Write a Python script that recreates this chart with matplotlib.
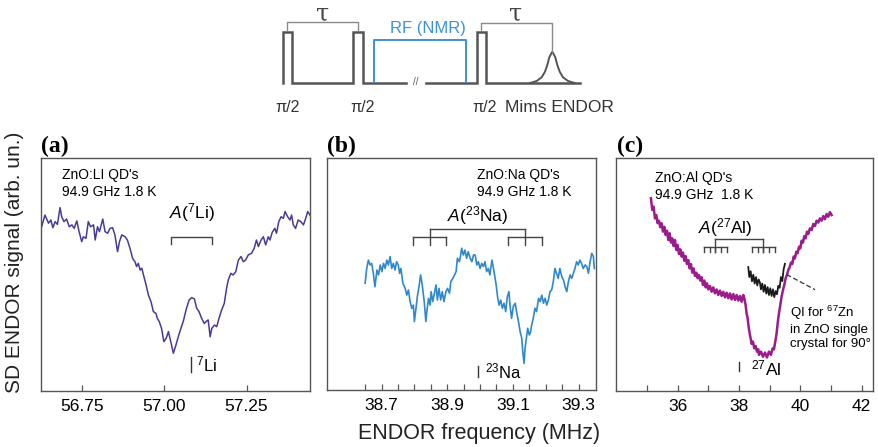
import matplotlib
matplotlib.use('Agg')
import matplotlib.pyplot as plt
from matplotlib.ticker import FixedLocator, FormatStrFormatter

# ---------------- data ----------------
# (a) ZnO:Li QD's, Mims ENDOR
li_freq = [56.626, 56.636, 56.647, 56.654, 56.660, 56.667, 56.674, 56.682, 56.687,
           56.694, 56.702, 56.710, 56.718, 56.725, 56.733, 56.740, 56.748, 56.753,
           56.761, 56.768, 56.775, 56.784, 56.789, 56.796, 56.802, 56.812, 56.819,
           56.827, 56.834, 56.842, 56.849, 56.857, 56.863, 56.870, 56.880, 56.887,
           56.895, 56.903, 56.910, 56.915, 56.920, 56.926, 56.931, 56.936, 56.944,
           56.951, 56.959, 56.966, 56.974, 56.978, 56.984, 56.991, 56.998, 57.005,
           57.012, 57.019, 57.027, 57.035, 57.042, 57.050, 57.057, 57.067, 57.075,
           57.083, 57.091, 57.098, 57.105, 57.113, 57.121, 57.128, 57.133, 57.139,
           57.144, 57.152, 57.159, 57.166, 57.174, 57.182, 57.189, 57.194, 57.202,
           57.209, 57.217, 57.225, 57.233, 57.240, 57.247, 57.255, 57.265, 57.273,
           57.280, 57.286, 57.294, 57.301, 57.308, 57.316, 57.321, 57.328, 57.336,
           57.341, 57.348, 57.355, 57.362, 57.367, 57.375, 57.382, 57.387, 57.392,
           57.399, 57.407, 57.415, 57.423, 57.430, 57.436, 57.443]
li_signal = [0.705, 0.755, 0.720, 0.734, 0.701, 0.727, 0.715, 0.787, 0.748,
             0.727, 0.738, 0.705, 0.713, 0.698, 0.730, 0.684, 0.641, 0.662,
             0.655, 0.727, 0.705, 0.713, 0.648, 0.705, 0.684, 0.738, 0.684,
             0.677, 0.698, 0.701, 0.670, 0.598, 0.641, 0.670, 0.662, 0.648,
             0.612, 0.569, 0.555, 0.534, 0.548, 0.519, 0.527, 0.498, 0.455,
             0.412, 0.383, 0.341, 0.333, 0.312, 0.298, 0.269, 0.212, 0.226,
             0.255, 0.212, 0.162, 0.198, 0.233, 0.269, 0.298, 0.355, 0.391,
             0.401, 0.395, 0.355, 0.341, 0.312, 0.290, 0.300, 0.305, 0.233,
             0.269, 0.283, 0.276, 0.312, 0.348, 0.376, 0.441, 0.476, 0.505,
             0.498, 0.512, 0.562, 0.577, 0.555, 0.562, 0.584, 0.591, 0.612,
             0.648, 0.620, 0.648, 0.662, 0.627, 0.662, 0.648, 0.681, 0.698,
             0.677, 0.727, 0.748, 0.741, 0.770, 0.748, 0.734, 0.755, 0.713,
             0.698, 0.734, 0.727, 0.713, 0.741, 0.770, 0.755]

# (b) ZnO:Na QD's
na_freq = [38.650, 38.655, 38.660, 38.665, 38.670, 38.675, 38.680, 38.686, 38.691,
           38.696, 38.701, 38.706, 38.711, 38.716, 38.721, 38.726, 38.731, 38.736,
           38.741, 38.746, 38.751, 38.755, 38.759, 38.765, 38.772, 38.777, 38.782,
           38.787, 38.792, 38.797, 38.800, 38.805, 38.809, 38.815, 38.819, 38.824,
           38.830, 38.835, 38.838, 38.843, 38.848, 38.851, 38.856, 38.860, 38.866,
           38.870, 38.875, 38.880, 38.885, 38.890, 38.896, 38.901, 38.907, 38.911,
           38.917, 38.922, 38.927, 38.931, 38.937, 38.941, 38.944, 38.949, 38.954,
           38.959, 38.964, 38.970, 38.975, 38.980, 38.985, 38.990, 38.995, 39.000,
           39.005, 39.010, 39.015, 39.020, 39.025, 39.030, 39.036, 39.041, 39.046,
           39.049, 39.054, 39.058, 39.063, 39.068, 39.073, 39.078, 39.083, 39.088,
           39.091, 39.096, 39.101, 39.107, 39.112, 39.117, 39.122, 39.127, 39.130,
           39.134, 39.137, 39.141, 39.145, 39.150, 39.154, 39.157, 39.162, 39.167,
           39.172, 39.178, 39.183, 39.188, 39.193, 39.198, 39.203, 39.208, 39.213,
           39.218, 39.223, 39.228, 39.233, 39.238, 39.243, 39.249, 39.254, 39.259,
           39.264, 39.269, 39.274, 39.279, 39.284, 39.289, 39.294, 39.299, 39.304,
           39.309, 39.314, 39.320, 39.325, 39.330, 39.335, 39.340, 39.345, 39.348]
na_signal = [0.460, 0.524, 0.560, 0.539, 0.546, 0.503, 0.445, 0.517, 0.496,
             0.539, 0.510, 0.546, 0.524, 0.560, 0.539, 0.575, 0.524, 0.546,
             0.517, 0.553, 0.539, 0.503, 0.524, 0.460, 0.438, 0.409, 0.431,
             0.381, 0.352, 0.366, 0.295, 0.352, 0.402, 0.453, 0.496, 0.453,
             0.381, 0.295, 0.338, 0.395, 0.366, 0.424, 0.381, 0.409, 0.453,
             0.388, 0.438, 0.388, 0.424, 0.381, 0.424, 0.438, 0.417, 0.467,
             0.481, 0.496, 0.510, 0.568, 0.553, 0.582, 0.611, 0.582, 0.603,
             0.568, 0.596, 0.568, 0.553, 0.582, 0.582, 0.539, 0.553, 0.524,
             0.546, 0.532, 0.553, 0.510, 0.524, 0.496, 0.560, 0.524, 0.481,
             0.453, 0.395, 0.366, 0.388, 0.352, 0.374, 0.338, 0.402, 0.424,
             0.366, 0.309, 0.359, 0.374, 0.330, 0.295, 0.251, 0.223, 0.165,
             0.115, 0.180, 0.223, 0.266, 0.237, 0.251, 0.280, 0.309, 0.352,
             0.338, 0.395, 0.381, 0.409, 0.374, 0.395, 0.366, 0.388, 0.424,
             0.431, 0.467, 0.524, 0.503, 0.481, 0.524, 0.488, 0.474, 0.445,
             0.424, 0.467, 0.496, 0.481, 0.503, 0.524, 0.553, 0.539, 0.560,
             0.546, 0.524, 0.539, 0.532, 0.503, 0.553, 0.589, 0.575, 0.524]

# (c) ZnO:Al QD's
al_freq = [35.129, 35.173, 35.216, 35.260, 35.303, 35.347, 35.390, 35.434, 35.477,
           35.521, 35.564, 35.608, 35.651, 35.695, 35.738, 35.782, 35.825, 35.869,
           35.912, 35.956, 35.999, 36.043, 36.086, 36.129, 36.173, 36.216, 36.260,
           36.303, 36.347, 36.390, 36.434, 36.477, 36.521, 36.564, 36.608, 36.651,
           36.695, 36.738, 36.782, 36.825, 36.869, 36.912, 36.956, 36.999, 37.053,
           37.108, 37.162, 37.216, 37.271, 37.325, 37.379, 37.434, 37.488, 37.543,
           37.597, 37.651, 37.706, 37.760, 37.814, 37.869, 37.923, 37.977, 38.032,
           38.086, 38.140, 38.173, 38.216, 38.249, 38.282, 38.314, 38.347, 38.380,
           38.412, 38.456, 38.499, 38.543, 38.586, 38.629, 38.651, 38.716, 38.782,
           38.847, 38.912, 38.977, 39.042, 39.097, 39.140, 39.184, 39.227, 39.260,
           39.303, 39.347, 39.390, 39.434, 39.477, 39.521, 39.564, 39.608, 39.651,
           39.695, 39.738, 39.782, 39.825, 39.869, 39.912, 39.956, 39.999, 40.042,
           40.086, 40.129, 40.173, 40.216, 40.260, 40.314, 40.369, 40.423, 40.477,
           40.532, 40.586, 40.640, 40.695, 40.749, 40.803, 40.858, 40.912, 40.966,
           41.021]
al_signal = [0.827, 0.777, 0.791, 0.741, 0.755, 0.720, 0.731, 0.703, 0.720,
             0.684, 0.705, 0.670, 0.688, 0.648, 0.677, 0.637, 0.655, 0.622,
             0.648, 0.605, 0.627, 0.588, 0.608, 0.577, 0.594, 0.559, 0.579,
             0.545, 0.562, 0.526, 0.545, 0.508, 0.526, 0.494, 0.508, 0.484,
             0.498, 0.474, 0.488, 0.455, 0.474, 0.445, 0.462, 0.436, 0.451,
             0.426, 0.445, 0.419, 0.436, 0.412, 0.431, 0.408, 0.426, 0.402,
             0.422, 0.398, 0.419, 0.393, 0.416, 0.391, 0.412, 0.388, 0.408,
             0.383, 0.412, 0.398, 0.369, 0.333, 0.312, 0.276, 0.248, 0.226,
             0.202, 0.212, 0.183, 0.193, 0.169, 0.179, 0.155, 0.169, 0.147,
             0.165, 0.144, 0.169, 0.155, 0.183, 0.179, 0.212, 0.248, 0.290,
             0.333, 0.369, 0.405, 0.433, 0.455, 0.484, 0.498, 0.519, 0.531,
             0.551, 0.545, 0.577, 0.569, 0.598, 0.591, 0.619, 0.612, 0.645,
             0.637, 0.665, 0.655, 0.684, 0.674, 0.698, 0.691, 0.717, 0.708,
             0.731, 0.723, 0.741, 0.731, 0.751, 0.737, 0.760, 0.748, 0.768,
             0.755]

# QI of 67Zn in ZnO single crystal (black trace in c)
zn_freq = [38.303, 38.336, 38.380, 38.423, 38.467, 38.510, 38.553, 38.597, 38.640,
           38.684, 38.716, 38.760, 38.803, 38.847, 38.890, 38.934, 38.977, 39.021,
           39.064, 39.108, 39.151, 39.195, 39.238, 39.282, 39.325, 39.369, 39.412,
           39.455, 39.499]
zn_signal = [0.532, 0.489, 0.514, 0.471, 0.499, 0.461, 0.489, 0.453, 0.479,
             0.465, 0.436, 0.461, 0.426, 0.455, 0.418, 0.446, 0.412, 0.441,
             0.408, 0.436, 0.403, 0.429, 0.415, 0.451, 0.443, 0.489, 0.472,
             0.522, 0.546]

# hyperfine splitting brackets
li_bracket = [57.020, 57.145]
na_centres = [38.848, 39.137]
na_lines = [[38.796, 38.848, 38.896], [39.085, 39.137, 39.188]]
al_centres = [37.23, 38.79]
al_lines = [[36.86, 37.045, 37.23, 37.415, 37.60],
            [38.42, 38.605, 38.79, 38.975, 39.16]]

# free nuclear frequencies
li_larmor = 57.081
na_larmor = 38.993
al_larmor = 38.01

# pulse sequence sketch (pixel-like units of the sketch)
seq_t = [283, 283, 292, 292, 353, 353, 363, 363, 477, 477, 486, 486, 580]
seq_a = [83, 32, 32, 83, 83, 32, 32, 83, 83, 32, 32, 83, 83]
echo_t = [530, 536.7, 541.7, 545, 547.3, 549.3, 552.3, 555.3, 557.3, 559.7, 563, 568, 574.7]
echo_a = [83, 81, 77.3, 71.7, 65, 57.3, 51.7, 57.3, 65, 71.7, 77.3, 81, 83]
rf_t = [374, 374, 466, 466]
rf_a = [82, 40, 40, 82]
tau1_t = [287.5, 287.5, 358, 358]
tau1_a = [30, 22, 22, 30]
tau2_t = [481.5, 481.5, 552.3, 552.3]
tau2_a = [30, 23, 23, 51.7]

GRAY = '#555555'
BLUE = '#3d92d6'


def setup_fonts():
    """ Arial-like fonts for all text and math """
    plt.rcParams['font.family'] = ['Liberation Sans', 'DejaVu Sans']
    plt.rcParams['mathtext.fontset'] = 'custom'
    plt.rcParams['mathtext.rm'] = 'Liberation Sans'
    plt.rcParams['mathtext.it'] = 'Liberation Sans:italic'
    plt.rcParams['mathtext.bf'] = 'Liberation Sans:bold'


def style_axes(ax):
    """ frame, inward bottom ticks, no y ticks """
    for sp in ax.spines.values():
        sp.set_color(GRAY)
        sp.set_linewidth(1.0)
    ax.set_ylim(0, 1)
    ax.set_yticks([])
    ax.tick_params(axis='x', which='both', direction='in', length=4, width=0.9,
                   color=GRAY, labelsize=12.5, pad=6, top=False)


def draw_sequence(fig):
    ax = fig.add_axes([260 / 879, 1 - 115 / 447, 380 / 879, 115 / 447])
    ax.set_xlim(260, 640)
    ax.set_ylim(115, 0)
    ax.axis('off')
    ax.plot(seq_t, seq_a, color=GRAY, lw=1.8, solid_joinstyle='miter')
    ax.plot(echo_t, echo_a, color=GRAY, lw=1.4)
    ax.plot(rf_t, rf_a, color=BLUE, lw=1.4)
    ax.plot(tau1_t, tau1_a, color='#8a8a8a', lw=1.0)
    ax.plot(tau2_t, tau2_a, color='#8a8a8a', lw=1.0)
    ax.text(416, 82, '//', fontsize=7, color=GRAY, ha='center', va='center',
            backgroundcolor='white')
    ax.text(323, 14, 'τ', fontsize=17, ha='center', va='center', color='#444444',
            family='DejaVu Serif')
    ax.text(516, 14, 'τ', fontsize=17, ha='center', va='center', color='#444444',
            family='DejaVu Serif')
    ax.text(428, 28, 'RF (NMR)', fontsize=12, ha='center', va='center', color=BLUE)
    for t in [287.5, 363, 485]:
        ax.text(t, 107, 'π/2', fontsize=11.5, ha='center', va='center', color='#333333')
    ax.text(505, 107, 'Mims ENDOR', fontsize=12.5, ha='left', va='center',
            color='#333333')


def main():
    setup_fonts()
    fig = plt.figure(figsize=(8.79, 4.47), dpi=100)

    draw_sequence(fig)

    # ---- (a) ----
    ax1 = fig.add_axes([41 / 879, 1 - 391 / 447, 269 / 879, 233 / 447])
    style_axes(ax1)
    ax1.plot(li_freq, li_signal, color='#463c98', lw=1.1)
    ax1.set_xlim(56.624, 57.443)
    ax1.xaxis.set_major_locator(FixedLocator([56.75, 57.00, 57.25]))
    ax1.xaxis.set_major_formatter(FormatStrFormatter('%.2f'))
    ax1.text(0.078, 0.955, "ZnO:LI QD's\n94.9 GHz 1.8 K", transform=ax1.transAxes,
             fontsize=10, va='top', ha='left', linespacing=1.25)
    ax1.plot([li_bracket[0], li_bracket[0], li_bracket[1], li_bracket[1]],
             [0.632, 0.662, 0.662, 0.632], color='#444444', lw=1.0)
    ax1.text(sum(li_bracket) / 2, 0.765, r'$A$($^{7}$Li)', fontsize=12.5,
             ha='center', va='center')
    ax1.plot([li_larmor, li_larmor], [0.080, 0.145], color='#333333', lw=1.0)
    ax1.text(li_larmor + 0.016, 0.112, r'$^{7}$Li', fontsize=12, ha='left', va='center')

    # ---- (b) ----
    ax2 = fig.add_axes([327 / 879, 1 - 390 / 447, 269 / 879, 232 / 447])
    style_axes(ax2)
    ax2.plot(na_freq, na_signal, color='#2f88cc', lw=1.2)
    ax2.set_xlim(38.534, 39.353)
    ax2.xaxis.set_major_locator(FixedLocator([38.7, 38.9, 39.1, 39.3]))
    ax2.xaxis.set_minor_locator(FixedLocator([38.65 + 0.05 * i for i in range(14)]))
    ax2.xaxis.set_major_formatter(FormatStrFormatter('%.1f'))
    ax2.text(0.559, 0.955, "ZnO:Na QD's\n94.9 GHz 1.8 K", transform=ax2.transAxes,
             fontsize=10, va='top', ha='left', linespacing=1.2)
    ax2.plot(na_centres, [0.693, 0.693], color='#444444', lw=1.0)
    for c, lines in zip(na_centres, na_lines):
        ax2.plot([c, c], [0.693, 0.625], color='#444444', lw=1.0)
        ax2.plot([lines[0], lines[-1]], [0.661, 0.661], color='#444444', lw=1.0)
        for f in [lines[0], lines[-1]]:
            ax2.plot([f, f], [0.661, 0.625], color='#444444', lw=1.0)
    ax2.text(sum(na_centres) / 2, 0.752, r'$A$($^{23}$Na)', fontsize=12.5,
             ha='center', va='center')
    ax2.plot([na_larmor, na_larmor], [0.055, 0.105], color='#333333', lw=1.0)
    ax2.text(na_larmor + 0.022, 0.082, r'$^{23}$Na', fontsize=12, ha='left',
             va='center')

    # ---- (c) ----
    ax3 = fig.add_axes([616 / 879, 1 - 391 / 447, 257 / 879, 233 / 447])
    style_axes(ax3)
    ax3.plot(al_freq, al_signal, color='#9c1c8e', lw=1.8)
    ax3.plot(zn_freq, zn_signal, color='#1a1a1a', lw=1.3)
    ax3.set_xlim(33.99, 42.37)
    ax3.xaxis.set_major_locator(FixedLocator([36, 38, 40, 42]))
    ax3.xaxis.set_minor_locator(FixedLocator([35, 37, 39, 41]))
    ax3.text(0.152, 0.945, "ZnO:Al QD's\n94.9 GHz  1.8 K", transform=ax3.transAxes,
             fontsize=10, va='top', ha='left', linespacing=1.25)
    ax3.plot(al_centres, [0.652, 0.652], color='#444444', lw=1.0)
    for c, lines in zip(al_centres, al_lines):
        ax3.plot([c, c], [0.652, 0.597], color='#444444', lw=1.0)
        ax3.plot([lines[0], lines[-1]], [0.619, 0.619], color='#444444', lw=1.0)
        for f in lines:
            ax3.plot([f, f], [0.619, 0.597], color='#444444', lw=1.0)
    ax3.text(37.55, 0.70, r'$A$($^{27}$Al)', fontsize=12.5, ha='center', va='center')
    ax3.plot([39.55, 40.48], [0.500, 0.435], color='#333333', lw=0.9, ls=(0, (4, 2)))
    ax3.text(39.66, 0.276, 'QI for $^{67}$Zn\nin ZnO single\ncrystal for 90°',
             fontsize=9.5, ha='left', va='center', linespacing=1.25)
    ax3.plot([al_larmor, al_larmor], [0.085, 0.125], color='#333333', lw=1.0)
    ax3.text(38.40, 0.098, r'$^{27}$Al', fontsize=12.5, ha='left', va='center')

    # panel letters
    for x0, lab in [(41, '(a)'), (327, '(b)'), (617, '(c)')]:
        fig.text(x0 / 879, 1 - 146 / 447, lab, fontsize=17, fontweight='bold',
                 family='Liberation Serif', ha='left', va='center')

    fig.text(14.5 / 879, 1 - 262 / 447, 'SD ENDOR signal (arb. un.)', rotation=90,
             fontsize=15, ha='center', va='center', color='#222222')
    fig.text(479.5 / 879, 1 - 433 / 447, 'ENDOR frequency (MHz)', fontsize=15.5,
             ha='center', va='center', color='#222222')

    fig.savefig('out.png', dpi=100)


if __name__ == '__main__':
    main()
